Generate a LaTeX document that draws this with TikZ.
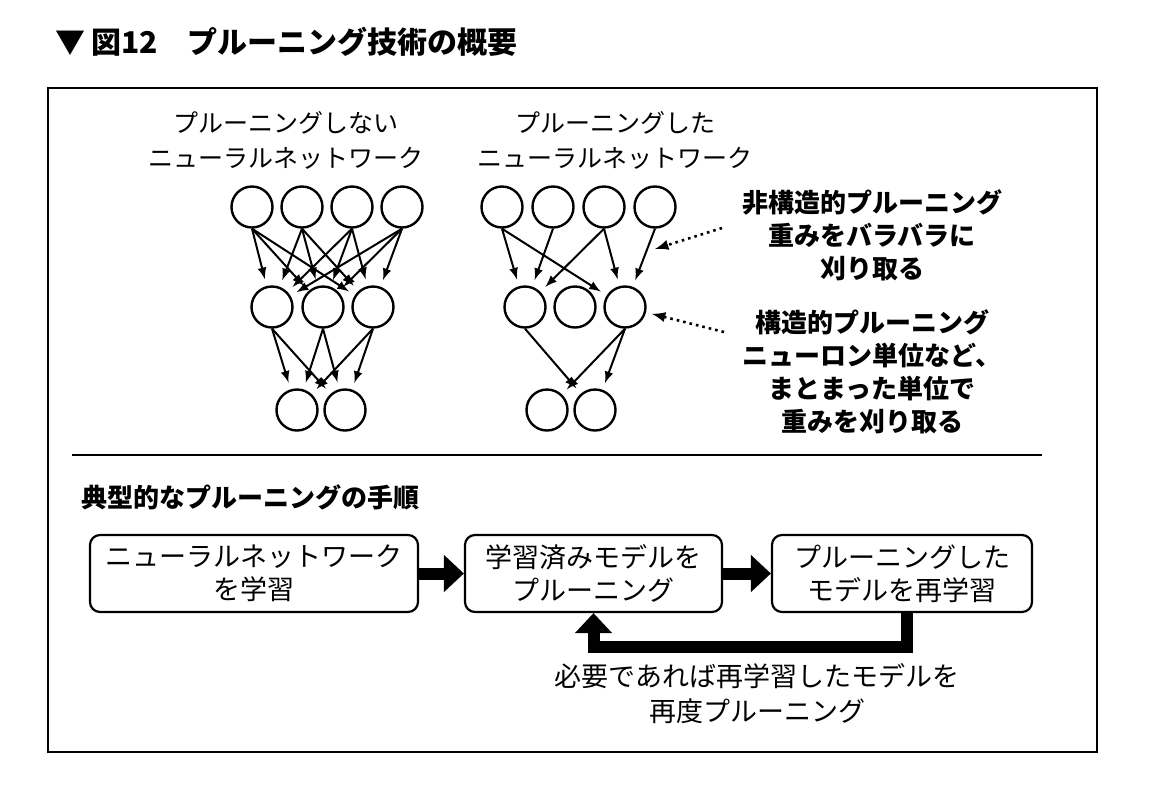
\documentclass[tikz,border=0pt]{standalone}
\usepackage{fontspec}
\setmainfont{Noto Sans CJK JP}
\usepackage{tikz}
\usetikzlibrary{arrows}
\usetikzlibrary{arrows.meta}
\usetikzlibrary{shapes}

\tikzset{
    neuron/.style = {circle, draw, line width = 1.2pt, minimum size = 20.5pt, inner sep = 0pt},
    link/.style = {line width = 1pt, -latex, shorten >= 3.5pt},
    hint/.style = {line width = 1.3pt, dotted, -latex},
    stage/.style = {draw, line width = 1.1pt, rounded corners = 5pt, minimum height = 38.5pt,
        align = center, font = \fontsize{13.5}{16.5}\selectfont},
    flow/.style = {line width = 6pt, -{Triangle[length = 10pt, width = 18pt]}},
    netlabel/.style = {align = center, font = \fontsize{12.5}{17.5}\selectfont},
    note/.style = {align = center, font = \fontsize{13}{16.5}\selectfont\bfseries}
}

\begin{document}
\begin{tikzpicture}[x = 0.5pt, y = -0.5pt]
                \useasboundingbox (0, 0) rectangle (1156, 788);

                \node [anchor = west, font = \fontsize{15}{18}\selectfont\bfseries] (title) at (48, 42)
                    {▼\hspace{3pt}図12\hspace{15pt}プルーニング技術の概要};
                \draw [line width = 1.3pt] (48, 88) rectangle (1097, 752);
                \draw [line width = 1.2pt] (72, 455) -- (1042, 455);

                \node [netlabel] (lab1) at (286, 140) {プルーニングしない\\ニューラルネットワーク};
                \node [netlabel] (lab2) at (615, 140) {プルーニングした\\ニューラルネットワーク};

                \node [neuron] (t1) at (252, 207) {};
                \node [neuron] (t2) at (302, 207) {};
                \node [neuron] (t3) at (352, 207) {};
                \node [neuron] (t4) at (402, 207) {};
                \node [neuron] (m1) at (272, 307) {};
                \node [neuron] (m2) at (323, 307) {};
                \node [neuron] (m3) at (373, 307) {};
                \node [neuron] (o1) at (297, 410) {};
                \node [neuron] (o2) at (345, 410) {};

                \draw [link] (t1.south) -- (m1);
                \draw [link] (t1.south) -- (m2);
                \draw [link] (t1.south) -- (m3);
                \draw [link] (t2.south) -- (m1);
                \draw [link] (t2.south) -- (m2);
                \draw [link] (t2.south) -- (m3);
                \draw [link] (t3.south) -- (m1);
                \draw [link] (t3.south) -- (m2);
                \draw [link] (t3.south) -- (m3);
                \draw [link] (t4.south) -- (m1);
                \draw [link] (t4.south) -- (m2);
                \draw [link] (t4.south) -- (m3);
                \draw [link] (m1.south) -- (o1);
                \draw [link] (m1.south) -- (o2);
                \draw [link] (m2.south) -- (o1);
                \draw [link] (m2.south) -- (o2);
                \draw [link] (m3.south) -- (o1);
                \draw [link] (m3.south) -- (o2);

                \node [neuron] (p1) at (502, 207) {};
                \node [neuron] (p2) at (553, 207) {};
                \node [neuron] (p3) at (604, 207) {};
                \node [neuron] (p4) at (655, 207) {};
                \node [neuron] (q1) at (525, 307) {};
                \node [neuron] (q2) at (575, 307) {};
                \node [neuron] (q3) at (625, 307) {};
                \node [neuron] (r1) at (547, 410) {};
                \node [neuron] (r2) at (595, 410) {};

                \draw [link] (p1.south) -- (q1);
                \draw [link] (p1.south) -- (q3);
                \draw [link] (p2.south) -- (q1);
                \draw [link] (p3.south) -- (q1);
                \draw [link] (p3.south) -- (q3);
                \draw [link] (p4.south) -- (q3);
                \draw [link] (q1.south) -- (r2);
                \draw [link] (q3.south) -- (r1);
                \draw [link] (q3.south) -- (r2);

                \node [note] (unstr) at (872, 235) {非構造的プルーニング\\重みをバラバラに\\刈り取る};
                \node [note] (str) at (872, 372) {構造的プルーニング\\ニューロン単位など、\\まとまった単位で\\重みを刈り取る};
                \coordinate (h1) at (722, 228);
                \coordinate (h1tip) at (655, 249);
                \coordinate (h2) at (724, 332);
                \draw [hint] (h1) -- (h1tip);
                \draw [hint, shorten >= 3pt] (h2) -- (q3);

                \node [anchor = west, font = \fontsize{13}{16}\selectfont\bfseries] (steps) at (74, 497)
                    {典型的なプルーニングの手順};
                \node [stage, minimum width = 164pt] (b1) at (254, 573.5) {ニューラルネットワーク\\を学習};
                \node [stage, minimum width = 128.5pt] (b2) at (593.5, 573.5) {学習済みモデルを\\プルーニング};
                \node [stage, minimum width = 130pt] (b3) at (902, 573.5) {プルーニングした\\モデルを再学習};
                \draw [flow] (b1) -- (b2);
                \draw [flow] (b2) -- (b3);
                \coordinate (turn) at (0, 647);
                \draw [flow] ([xshift = 2.5pt]b3.south) |- (turn -| b2.south) -- (b2.south);
                \node [align = center, font = \fontsize{13.5}{17.5}\selectfont] (again) at (757, 693.5)
                    {必要であれば再学習したモデルを\\再度プルーニング};
            \end{tikzpicture}
\end{document}
